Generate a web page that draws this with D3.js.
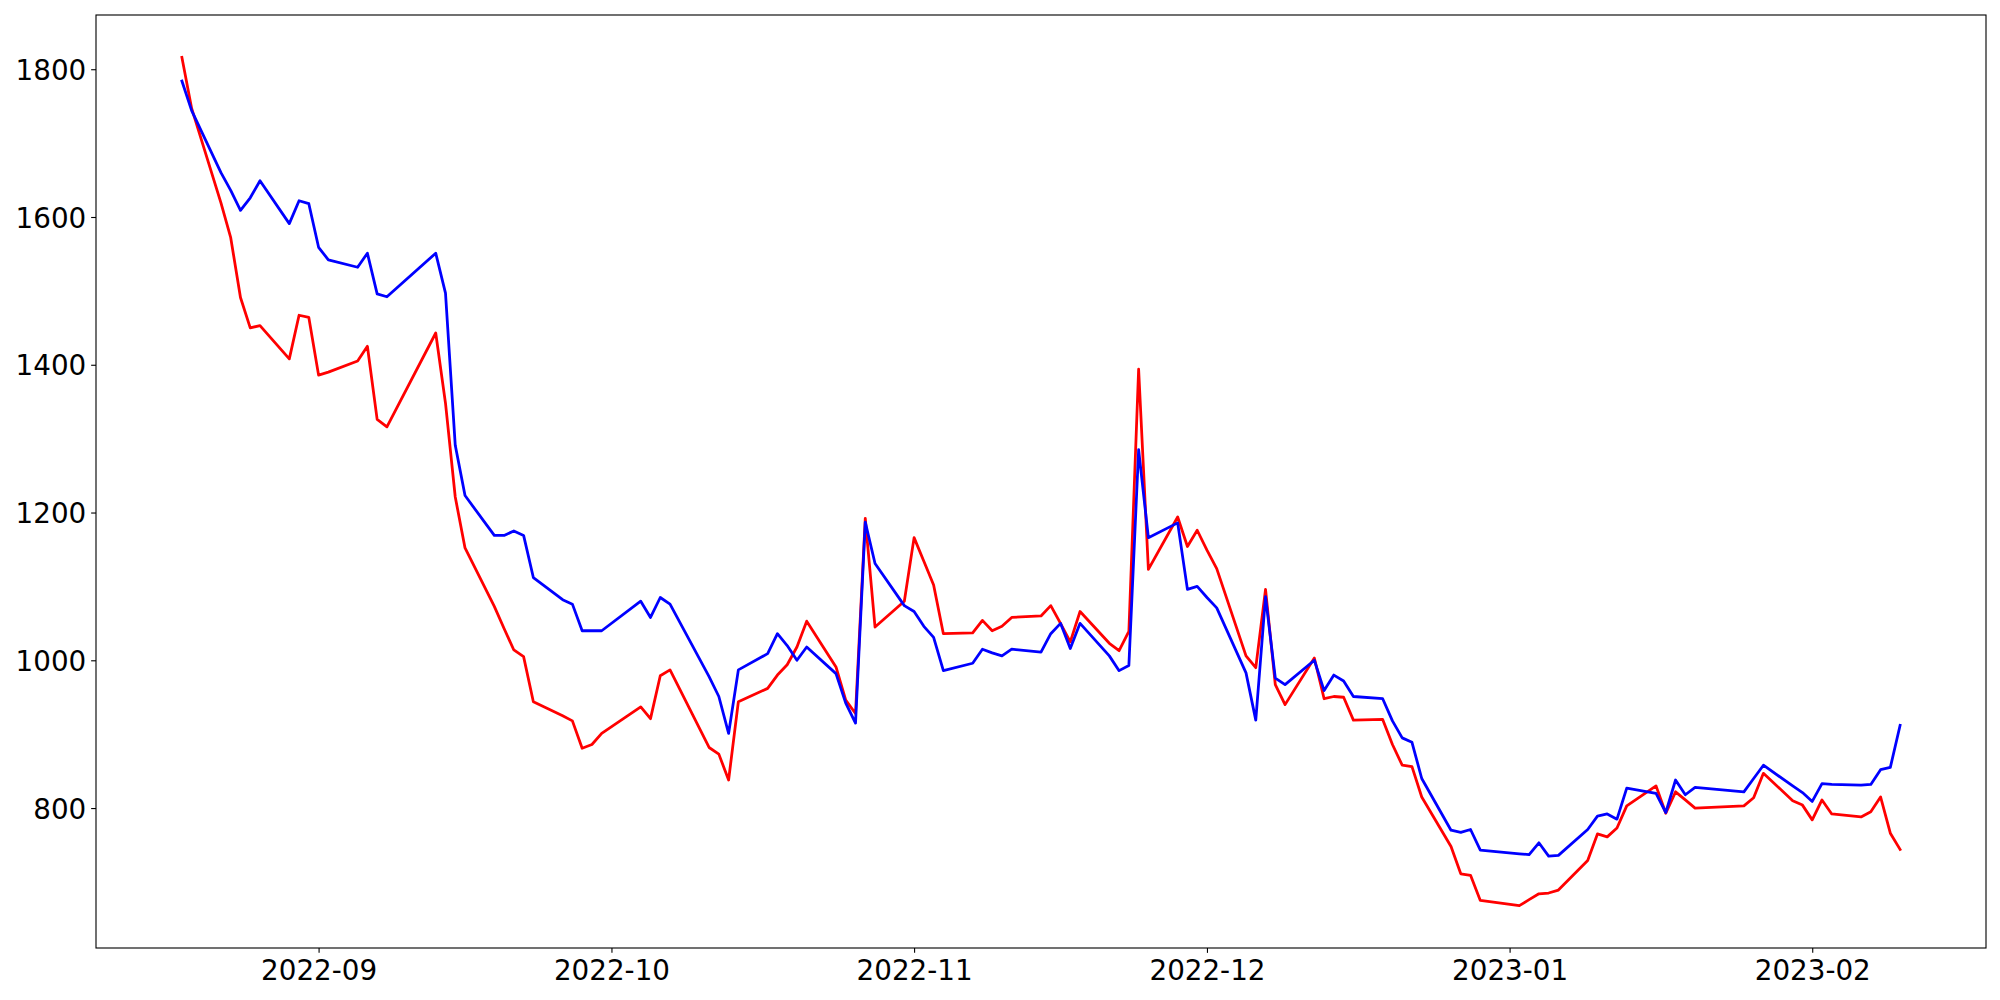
<!DOCTYPE html>
<html>
<head>
<meta charset="utf-8">
<script src="https://cdn.jsdelivr.net/npm/d3@7"></script>
<style>
  body { margin: 0; background: #fff; }
  .axis text { font-family: "DejaVu Sans", sans-serif; font-size: 27.78px; fill: #000; }
  .axis line { stroke: #000; stroke-width: 1.11px; }
  .line { fill: none; stroke-width: 2.78px; stroke-linejoin: round; stroke-linecap: square; }
</style>
</head>
<body>
<div id="chart"></div>
<script>
// trading days (KRX calendar)
var dates = [
  "2022-08-18", "2022-08-19", "2022-08-22", "2022-08-23", "2022-08-24", "2022-08-25", "2022-08-26", "2022-08-29", "2022-08-30", "2022-08-31",
  "2022-09-01", "2022-09-02", "2022-09-05", "2022-09-06", "2022-09-07", "2022-09-08", "2022-09-13", "2022-09-14", "2022-09-15", "2022-09-16",
  "2022-09-19", "2022-09-20", "2022-09-21", "2022-09-22", "2022-09-23", "2022-09-26", "2022-09-27", "2022-09-28", "2022-09-29", "2022-09-30",
  "2022-10-04", "2022-10-05", "2022-10-06", "2022-10-07", "2022-10-11", "2022-10-12", "2022-10-13", "2022-10-14", "2022-10-17", "2022-10-18",
  "2022-10-19", "2022-10-20", "2022-10-21", "2022-10-24", "2022-10-25", "2022-10-26", "2022-10-27", "2022-10-28", "2022-10-31",
  "2022-11-01", "2022-11-02", "2022-11-03", "2022-11-04", "2022-11-07", "2022-11-08", "2022-11-09", "2022-11-10", "2022-11-11",
  "2022-11-14", "2022-11-15", "2022-11-16", "2022-11-17", "2022-11-18", "2022-11-21", "2022-11-22", "2022-11-23", "2022-11-24", "2022-11-25",
  "2022-11-28", "2022-11-29", "2022-11-30",
  "2022-12-01", "2022-12-02", "2022-12-05", "2022-12-06", "2022-12-07", "2022-12-08", "2022-12-09", "2022-12-12", "2022-12-13", "2022-12-14",
  "2022-12-15", "2022-12-16", "2022-12-19", "2022-12-20", "2022-12-21", "2022-12-22", "2022-12-23", "2022-12-26", "2022-12-27", "2022-12-28", "2022-12-29",
  "2023-01-02", "2023-01-03", "2023-01-04", "2023-01-05", "2023-01-06", "2023-01-09", "2023-01-10", "2023-01-11", "2023-01-12", "2023-01-13",
  "2023-01-16", "2023-01-17", "2023-01-18", "2023-01-19", "2023-01-20", "2023-01-25", "2023-01-26", "2023-01-27", "2023-01-30", "2023-01-31",
  "2023-02-01", "2023-02-02", "2023-02-03", "2023-02-06", "2023-02-07", "2023-02-08", "2023-02-09", "2023-02-10"
];

var blueValues = [
  1784, 1744, 1660, 1636, 1609, 1626, 1649, 1591, 1622, 1618,
  1559, 1542, 1532, 1551, 1496, 1492, 1551, 1497, 1291, 1223,
  1169, 1169, 1175, 1169, 1112, 1082, 1076, 1040, 1040, 1040,
  1080, 1058, 1085, 1076, 978, 951, 901, 987, 1009, 1036,
  1020, 1000, 1018, 982, 942, 915, 1187, 1131, 1074,
  1066, 1046, 1031, 986, 996, 1015, 1010, 1006, 1015,
  1011, 1036, 1050, 1016, 1050, 1006, 986, 993, 1285, 1166,
  1186, 1096, 1100,
  1085, 1071, 983, 919, 1086, 976, 967, 1000, 959, 980,
  972, 951, 948, 918, 895, 889, 840, 770, 767, 771, 743,
  738, 737, 753, 735, 736, 771, 789, 792, 785, 827,
  820, 794, 838, 818, 828, 822, 840, 858, 830, 821,
  809, 833, 832, 831, 832, 852, 855, 912
];

var redValues = [
  1816, 1747, 1619, 1572, 1491, 1450, 1453, 1408, 1467, 1464,
  1386, 1390, 1405, 1425, 1326, 1316, 1443, 1348, 1221, 1152,
  1073, 1043, 1014, 1005, 944, 925, 918, 881, 886, 901,
  937, 921, 979, 987, 882, 873, 838, 944, 962, 980,
  994, 1018, 1053, 991, 946, 928, 1192, 1045, 1080,
  1166, 1134, 1102, 1036, 1037, 1054, 1040, 1046, 1058,
  1060, 1074, 1050, 1025, 1066, 1023, 1013, 1039, 1394, 1123,
  1194, 1154, 1176,
  1149, 1124, 1006, 990, 1096, 967, 940, 1003, 948, 951,
  950, 919, 920, 886, 858, 856, 815, 748, 711, 709, 675,
  668, 676, 684, 685, 689, 729, 765, 761, 773, 803,
  830, 793, 822, 811, 800, 803, 814, 847, 810, 804,
  784, 811, 792, 788, 795, 815, 766, 744
];

var yTicks = [800, 1000, 1200, 1400, 1600, 1800];
var xTickLabels = ["2022-09", "2022-10", "2022-11", "2022-12", "2023-01", "2023-02"];

var margin = { top: 15, right: 14, bottom: 52, left: 96 },
    width = 2000 - margin.left - margin.right,
    height = 1000 - margin.top - margin.bottom;

var parseDay = d3.utcParse("%Y-%m-%d");
var parseMonth = d3.utcParse("%Y-%m");

var red = dates.map(function (d, i) { return { date: parseDay(d), value: redValues[i] }; });
var blue = dates.map(function (d, i) { return { date: parseDay(d), value: blueValues[i] }; });

// 5% padding like matplotlib autoscale
var xExt = d3.extent(red, function (d) { return d.date; });
var xPad = (xExt[1] - xExt[0]) * 0.05;
var xscale = d3.scaleUtc()
    .domain([new Date(+xExt[0] - xPad), new Date(+xExt[1] + xPad)])
    .range([0, width]);

var yExt = d3.extent(redValues.concat(blueValues));
var yPad = (yExt[1] - yExt[0]) * 0.05;
var yscale = d3.scaleLinear()
    .domain([yExt[0] - yPad, yExt[1] + yPad])
    .range([height, 0]);

var line = d3.line()
    .x(function (d) { return xscale(d.date); })
    .y(function (d) { return yscale(d.value); });

var svg = d3.select("#chart").append("svg")
    .attr("width", 2000)
    .attr("height", 1000)
    .append("g")
    .attr("transform", "translate(" + margin.left + "," + margin.top + ")");

svg.append("path")
    .datum(red)
    .attr("class", "line")
    .attr("stroke", "#ff0000")
    .attr("d", line);

svg.append("path")
    .datum(blue)
    .attr("class", "line")
    .attr("stroke", "#0000ff")
    .attr("d", line);

// x axis
var gx = svg.append("g")
    .attr("class", "axis")
    .attr("transform", "translate(0," + height + ")")
    .call(d3.axisBottom(xscale)
        .tickValues(xTickLabels.map(parseMonth))
        .tickFormat(d3.utcFormat("%Y-%m"))
        .tickSize(4.86)
        .tickPadding(4.86));
gx.select(".domain").remove();
gx.selectAll("text").attr("dy", "0.8em");

// y axis
var gy = svg.append("g")
    .attr("class", "axis")
    .call(d3.axisLeft(yscale)
        .tickValues(yTicks)
        .tickFormat(d3.format("d"))
        .tickSize(4.86)
        .tickPadding(4.86));
gy.select(".domain").remove();
gy.selectAll("text").attr("dy", "0.36em");

// frame
svg.append("rect")
    .attr("width", width)
    .attr("height", height)
    .attr("fill", "none")
    .attr("stroke", "#000")
    .attr("stroke-width", 1.11);
</script>
</body>
</html>
